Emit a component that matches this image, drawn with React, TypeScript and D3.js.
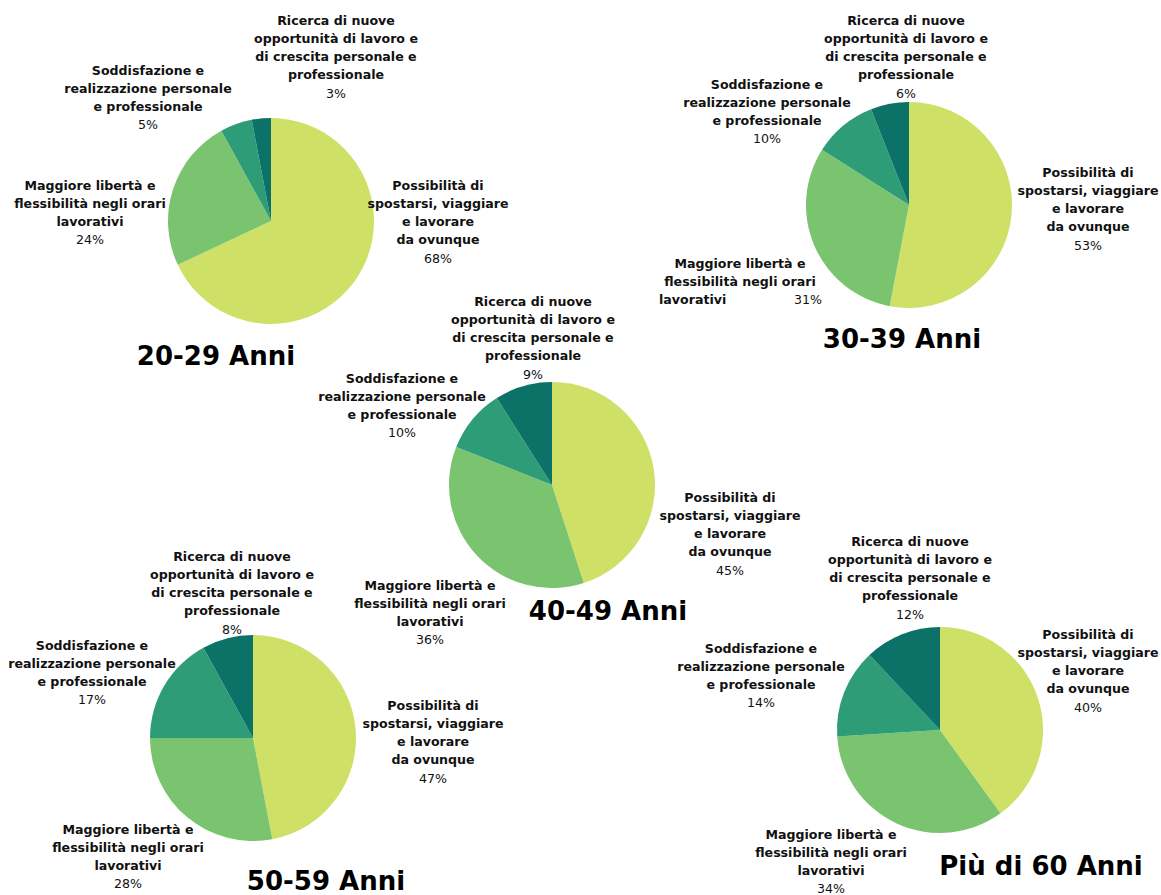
import React from "react";
import * as d3 from "d3";

const categories = [
  "Possibilità di spostarsi, viaggiare e lavorare da ovunque",
  "Maggiore libertà e flessibilità negli orari lavorativi",
  "Soddisfazione e realizzazione personale e professionale",
  "Ricerca di nuove opportunità di lavoro e di crescita personale e professionale",
];
const categoryLines = [
  ["Possibilità di", "spostarsi, viaggiare", "e lavorare", "da ovunque"],
  ["Maggiore libertà e", "flessibilità negli orari", "lavorativi"],
  ["Soddisfazione e", "realizzazione personale", "e professionale"],
  ["Ricerca di nuove", "opportunità di lavoro e", "di crescita personale e", "professionale"],
];
const ageGroups = ["20-29 Anni", "30-39 Anni", "40-49 Anni", "50-59 Anni", "Più di 60 Anni"];
const values2029 = [68, 24, 5, 3];
const values3039 = [53, 31, 10, 6];
const values4049 = [45, 36, 10, 9];
const values5059 = [47, 28, 17, 8];
const values60 = [40, 34, 14, 12];
const seriesValues = [values2029, values3039, values4049, values5059, values60];

const colors = ["#cfe066", "#7bc46f", "#2f9c78", "#0c7268"];

// layout: pie centre, title position, label anchors (centre x, first line centre y) per category
const layout = [
  { cx: 271, cy: 221, title: [216, 355], labels: [[438, 185], [90, 185], [148, 70], [336, 20]] },
  { cx: 909, cy: 205, title: [902, 338], labels: [[1088, 172], [740, 263], [767, 84], [906, 20]] },
  { cx: 552, cy: 485, title: [608, 610], labels: [[730, 497], [430, 585], [402, 378], [533, 301]] },
  { cx: 253, cy: 738, title: [326, 880], labels: [[433, 705], [128, 829], [92, 645], [232, 556]] },
  { cx: 940, cy: 730, title: [1041, 865], labels: [[1088, 634], [831, 834], [761, 648], [910, 541]] },
];
const radius = 103;
const lineH = 18.3;

export default function App() {
  const pie = d3.pie<number>().sort(null).value((d) => d);
  const arc = d3.arc<d3.PieArcDatum<number>>().innerRadius(0).outerRadius(radius);
  const fmt = (v: number) => `${v}%`;
  return (
    <svg
      width={1161}
      height={895}
      style={{ position: "absolute", left: 0, top: 0, background: "#fff" }}
      fontFamily="'DejaVu Sans', sans-serif"
    >
      {seriesValues.map((vals, gi) => {
        const L = layout[gi];
        const arcs = pie(vals);
        return (
          <g key={gi}>
            <g transform={`translate(${L.cx},${L.cy})`}>
              {arcs.map((a, i) => (
                <path key={i} d={arc(a) || ""} fill={colors[i]} />
              ))}
            </g>
            {vals.map((v, ci) => {
              const [lx, ly] = L.labels[ci];
              const lines = categoryLines[ci];
              const inline = gi === 1 && ci === 1;
              return (
                <g key={ci} fontSize={12.6} fill="#111">
                  {lines.map((t, li) => (
                    <text
                      key={li}
                      x={inline && li === lines.length - 1 ? 659 : lx}
                      y={ly + li * lineH + 4.5}
                      textAnchor={inline && li === lines.length - 1 ? "start" : "middle"}
                      fontWeight={700}
                    >
                      {t}
                    </text>
                  ))}
                  {inline ? (
                    <text x={822} y={ly + (lines.length - 1) * lineH + 4.5} textAnchor="end" fontWeight={400}>
                      {fmt(v)}
                    </text>
                  ) : (
                    <text x={lx} y={ly + lines.length * lineH + 4.5} textAnchor="middle" fontWeight={400}>
                      {fmt(v)}
                    </text>
                  )}
                </g>
              );
            })}
            <text
              x={L.title[0]}
              y={L.title[1] + 9.5}
              textAnchor="middle"
              fontSize={26}
              fontWeight={700}
              fill="#000"
            >
              {ageGroups[gi]}
            </text>
          </g>
        );
      })}
    </svg>
  );
}
